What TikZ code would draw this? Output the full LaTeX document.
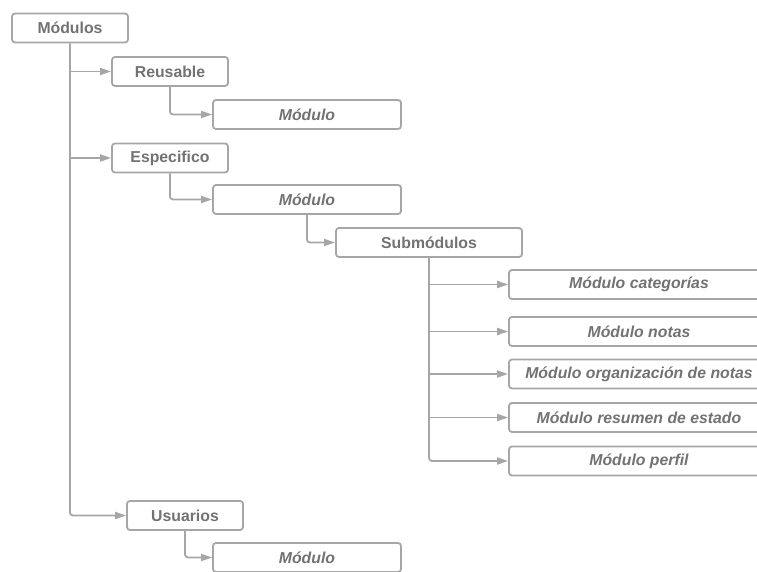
\documentclass[tikz,border=0pt]{standalone}
\usepackage{fontspec}
\setmainfont{Liberation Sans}
\usetikzlibrary{arrows.meta}
\definecolor{linegray}{HTML}{A6A6A6}
\definecolor{textgray}{HTML}{727272}
\begin{document}
\begin{tikzpicture}[x=1pt,y=-1pt,
  box/.style={draw=linegray, line width=1.8pt, rounded corners=3pt, fill=white,
    text=textgray, font=\fontsize{15.8}{18}\selectfont\bfseries,
    inner sep=0pt, minimum height=29pt},
  group/.style={box, minimum width=116pt},
  leaf/.style={box, minimum width=188pt, font=\fontsize{15.8}{18}\selectfont\bfseries\itshape},
  sub/.style={box, minimum width=260pt, font=\fontsize{15.8}{18}\selectfont\bfseries\itshape},
  conn/.style={draw=linegray, line width=1.8pt, rounded corners=3pt,
    -{Triangle[length=11pt,width=7pt]}}
]
\useasboundingbox (0,0) rectangle (757,572);

% top level and groups
\node[group] (mod) at (70,28) {Módulos};
\node[group] (reu) at (170,71.5) {Reusable};
\node[leaf]  (reumod) at (307,114.5) {Módulo};
\node[group] (esp) at (170,158) {Especifico};
\node[leaf]  (espmod) at (307,199.5) {Módulo};
\node[box, minimum width=186pt] (sub) at (429,242.5) {Submódulos};
\node[sub] (cat)  at (639,284.5) {Módulo categorías};
\node[sub] (not)  at (639,331.5) {Módulo notas};
\node[sub] (org)  at (639,374)   {Módulo organización de notas};
\node[sub] (res)  at (639,417.5) {Módulo resumen de estado};
\node[sub] (per)  at (639,461)   {Módulo perfil};
\node[group] (usu) at (185,515.5) {Usuarios};
\node[leaf]  (usumod) at (307,557.5) {Módulo};

% main trunk
\draw[conn] (mod.south) |- (usu.west);
\draw[conn] (mod.south |- reu.west) -- (reu.west);
\draw[conn] (mod.south |- esp.west) -- (esp.west);

% second level
\draw[conn] (reu.south) |- (reumod.west);
\draw[conn] (esp.south) |- (espmod.west);
\draw[conn] (espmod.south) |- (sub.west);
\draw[conn] (usu.south) |- (usumod.west);

% submodules
\draw[conn] (sub.south) |- (per.west);
\foreach \n in {cat,not,org,res}
  \draw[conn] (sub.south |- \n.west) -- (\n.west);
\end{tikzpicture}
\end{document}
